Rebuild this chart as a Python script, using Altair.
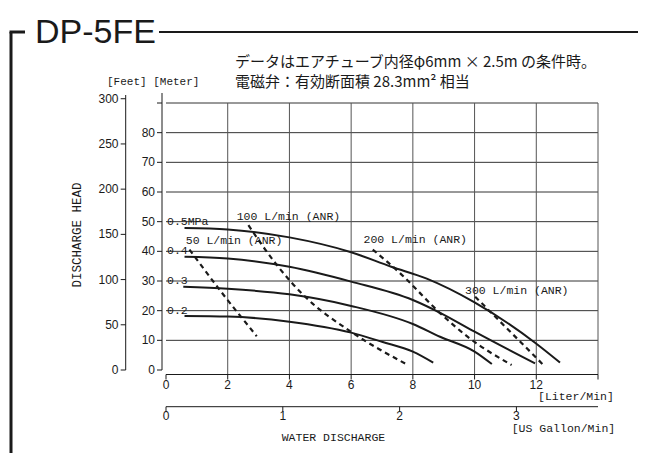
import altair as alt
import pandas as pd

# ---------------- data ----------------
# pump curves (Liter/Min vs Meter) per air pressure
flow_05 = [0.6, 2, 4, 6, 7.3, 8.45, 10.0, 11.96, 12.77]
head_05 = [47.9, 47.4, 44.7, 39.7, 34.8, 30.8, 22.8, 9.2, 2.5]
flow_04 = [0.6, 2, 4, 6, 8, 8.9, 10.0, 11.96]
head_04 = [38.2, 37.6, 34.8, 29.8, 23.6, 19.2, 12.9, 2.2]
flow_03 = [0.56, 2, 4, 6, 8, 8.88, 10.0, 10.56]
head_03 = [28.1, 27.4, 25.5, 21.6, 15.5, 11.2, 6.2, 2.0]
flow_02 = [0.6, 2, 4, 6, 7, 8, 8.66]
head_02 = [18.2, 18.0, 16.3, 12.6, 9.5, 6.2, 2.5]

# air consumption lines (dashed)
air50_flow = [0.76, 1.8, 2.94]
air50_head = [40.6, 26.2, 11.4]
air100_flow = [2.67, 3.59, 4.45, 6.07, 7.75]
air100_head = [48.8, 35.4, 25.3, 12.4, 2.2]
air200_flow = [6.7, 7.6, 8.9, 9.8, 11.2]
air200_head = [40.6, 32.5, 19.0, 11.0, 1.7]
air300_flow = [10.02, 11.1, 12.23]
air300_head = [24.7, 13.5, 1.7]

pressure_labels = ["0.5MPa", "0.4", "0.3", "0.2"]
pressure_levels = [50, 40, 30, 20]
air_labels = ["50 L/min (ANR)", "100 L/min (ANR)", "200 L/min (ANR)", "300 L/min (ANR)"]
air_label_flow = [0.64, 2.29, 6.4, 9.69]
air_label_head = [43.6, 51.6, 43.8, 26.7]

meter_ticks = [0, 10, 20, 30, 40, 50, 60, 70, 80, 90]
meter_labels = [0, 10, 20, 30, 40, 50, 60, 70, 80]
feet_ticks = [0, 50, 100, 150, 200, 250, 300]
liter_ticks = [0, 2, 4, 6, 8, 10, 12, 14]
liter_labels = [0, 2, 4, 6, 8, 10, 12]
liter_grid = [2, 4, 6, 8, 10, 12, 14]
gallon_ticks = [0, 1, 2, 3]
head_grid = [10, 20, 30, 40, 50, 60, 70, 80, 90]

TITLE = "DP-5FE"
NOTE1 = "データはエアチューブ内径φ6mm × 2.5m の条件時。"
NOTE2 = "電磁弁：有効断面積 28.3mm² 相当"

# ---------------- layout ----------------
W, H = 432, 267
XS = alt.Scale(domain=[0, 14], nice=False, zero=False)
YS = alt.Scale(domain=[0, 90], nice=False, zero=False)
MONO = "Liberation Mono, DejaVu Sans Mono, monospace"
SANS = "Liberation Sans, Arial, sans-serif"
CJK = "Noto Sans CJK JP, sans-serif"
INK = "#1a1a1a"

one = pd.DataFrame({"k": [0]})


def seg(x, y, x2, y2, w=1.0):
    return alt.Chart(one).mark_rule(color=INK, strokeWidth=w).encode(
        x=alt.value(x), y=alt.value(y), x2=alt.value(x2), y2=alt.value(y2))


def txt(t, x, y, size, font, align="left", baseline="middle", angle=0, weight="normal"):
    return alt.Chart(pd.DataFrame({"t": [t]})).mark_text(
        x=x, y=y, fontSize=size, font=font, align=align, baseline=baseline,
        angle=angle, fontWeight=weight, color=INK).encode(text="t:N")


def curve_df(names, flows, heads):
    rows = []
    for n, fl, hd in zip(names, flows, heads):
        for i, (a, b) in enumerate(zip(fl, hd)):
            rows.append({"series": n, "flow": a, "head": b, "order": i})
    return pd.DataFrame(rows)


pump = curve_df(pressure_labels,
                [flow_05, flow_04, flow_03, flow_02],
                [head_05, head_04, head_03, head_02])
air = curve_df(air_labels,
               [air50_flow, air100_flow, air200_flow, air300_flow],
               [air50_head, air100_head, air200_head, air300_head])

# grid
hgrid = alt.Chart(pd.DataFrame({"m": head_grid})).mark_rule(color="#333", strokeWidth=1).encode(
    y=alt.Y("m:Q", scale=YS, axis=None), x=alt.value(0), x2=alt.value(W))
vgrid = alt.Chart(pd.DataFrame({"l": liter_grid})).mark_rule(color="#555", strokeWidth=1).encode(
    x=alt.X("l:Q", scale=XS, axis=None), y=alt.value(0), y2=alt.value(H + 4.5))

# meter axis
m_line = seg(-4, -10, -4, H)
m_ticks = alt.Chart(pd.DataFrame({"m": meter_ticks})).mark_rule(color=INK, strokeWidth=1).encode(
    y=alt.Y("m:Q", scale=YS, axis=None), x=alt.value(-9), x2=alt.value(-4))
m_labels = alt.Chart(pd.DataFrame({"m": meter_labels})).mark_text(
    align="right", baseline="middle", fontSize=12, font=SANS, color=INK).encode(
    y=alt.Y("m:Q", scale=YS, axis=None), x=alt.value(-11), text="m:Q")

# feet axis
f_line = seg(-40.3, -8, -40.3, H)
f_base = alt.Chart(pd.DataFrame({"ft": feet_ticks})).transform_calculate(m="datum.ft * 0.3048")
f_ticks = f_base.mark_rule(color=INK, strokeWidth=1).encode(
    y=alt.Y("m:Q", scale=YS, axis=None), x=alt.value(-45.3), x2=alt.value(-40.3))
f_labels = f_base.mark_text(align="right", baseline="middle", fontSize=12, font=SANS, color=INK).encode(
    y=alt.Y("m:Q", scale=YS, axis=None), x=alt.value(-47.5), text="ft:Q")

# liter axis
l_line = seg(0, H + 4.5, W, H + 4.5)
l_ticks = alt.Chart(pd.DataFrame({"l": liter_ticks})).mark_rule(color=INK, strokeWidth=1).encode(
    x=alt.X("l:Q", scale=XS, axis=None), y=alt.value(H + 4.5), y2=alt.value(H + 9.5))
l_labels = alt.Chart(pd.DataFrame({"l": liter_labels})).mark_text(
    align="center", baseline="middle", fontSize=12, font=SANS, color=INK).encode(
    x=alt.X("l:Q", scale=XS, axis=None), y=alt.value(H + 15), text="l:Q")

# gallon axis
g_line = seg(0, H + 36.7, W, H + 36.7)
g_base = alt.Chart(pd.DataFrame({"g": gallon_ticks})).transform_calculate(l="datum.g * 3.78541")
g_ticks = g_base.mark_rule(color=INK, strokeWidth=1).encode(
    x=alt.X("l:Q", scale=XS, axis=None), y=alt.value(H + 36.7), y2=alt.value(H + 41.7))
g_labels = g_base.mark_text(align="center", baseline="middle", fontSize=12, font=SANS, color=INK).encode(
    x=alt.X("l:Q", scale=XS, axis=None), y=alt.value(H + 46), text="g:Q")

# curves
pump_lines = alt.Chart(pump).mark_line(color=INK, strokeWidth=2, interpolate="monotone").encode(
    x=alt.X("flow:Q", scale=XS, axis=None), y=alt.Y("head:Q", scale=YS, axis=None),
    detail="series:N", order="order:Q")
air_lines = alt.Chart(air).mark_line(color=INK, strokeWidth=2.2, strokeDash=[5, 4],
                                     interpolate="monotone").encode(
    x=alt.X("flow:Q", scale=XS, axis=None), y=alt.Y("head:Q", scale=YS, axis=None),
    detail="series:N", order="order:Q")

p_lab = alt.Chart(pd.DataFrame({"t": pressure_labels, "m": pressure_levels})).mark_text(
    align="left", baseline="middle", fontSize=11.5, font=MONO, color=INK, dx=1).encode(
    x=alt.value(0), y=alt.Y("m:Q", scale=YS, axis=None), text="t:N")
a_lab = alt.Chart(pd.DataFrame({"t": air_labels, "f": air_label_flow, "m": air_label_head})).mark_text(
    align="left", baseline="middle", fontSize=11.5, font=MONO, color=INK).encode(
    x=alt.X("f:Q", scale=XS, axis=None), y=alt.Y("m:Q", scale=YS, axis=None), text="t:N")

# frame, title, notes
frame = [
    seg(-155, -71, -155, 360, 3),
    seg(-156.5, -71, -141, -71, 3),
    seg(-7, -71, 480, -71, 2),
    txt(TITLE, -131, -60, 34, SANS, baseline="alphabetic"),
    txt(NOTE1, 69, -41, 15, CJK),
    txt(NOTE2, 69, -21, 15, CJK),
    txt("[Feet] [Meter]", -59, -21, 11, MONO),
    txt("DISCHARGE  HEAD", -89, 132, 12.5, MONO, align="center", angle=270),
    txt("[Liter/Min]", 372, 294, 11.5, MONO),
    txt("[US Gallon/Min]", 345.7, 326, 11.5, MONO),
    txt("WATER DISCHARGE", 115.7, 334.7, 11.5, MONO),
]

chart = alt.layer(
    hgrid, vgrid,
    m_line, m_ticks, m_labels,
    f_line, f_ticks, f_labels,
    l_line, l_ticks, l_labels,
    g_line, g_ticks, g_labels,
    pump_lines, air_lines, p_lab, a_lab,
    *frame,
).properties(
    width=W, height=H,
    autosize=alt.AutoSizeParams(type="none"),
    padding={"left": 158, "top": 95, "right": 40, "bottom": 83},
    background="white",
).configure_view(stroke=None)

chart.save("out.html", embed_options={"renderer": "svg", "actions": False})
